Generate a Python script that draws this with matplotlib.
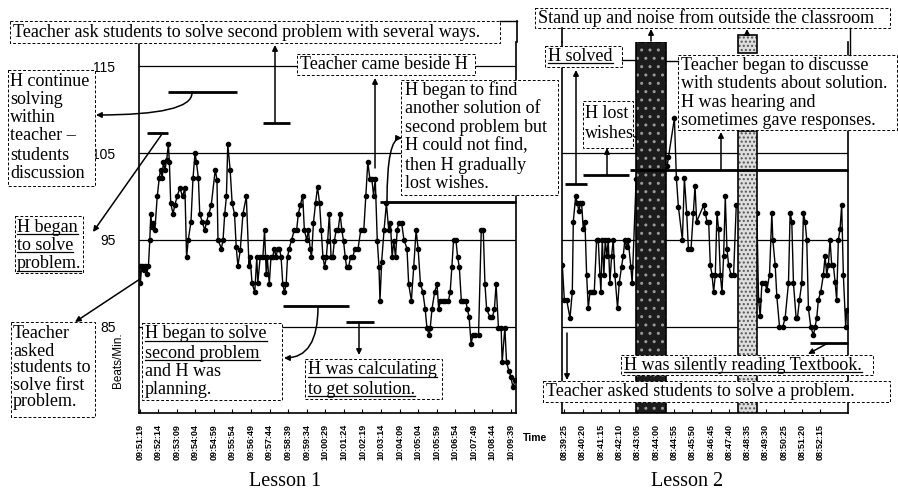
import matplotlib
matplotlib.use('Agg')
import matplotlib.pyplot as plt
from matplotlib.patches import Rectangle, FancyArrowPatch
import numpy as np

# Lesson 1 : seconds after 09:51:19 / heart rate (beats per minute)
t1 = [0, 2, 6, 12, 16, 21, 26, 30, 33, 36, 40, 45, 52, 58, 62, 67, 70, 75, 80, 85,
      88, 92, 99, 104, 111, 119, 127, 134, 139, 144, 152, 158, 164, 168, 174, 178,
      185, 193, 198, 205, 212, 224, 229, 232, 242, 247, 252, 257, 261, 268, 274,
      281, 286, 291, 298, 306, 316, 324, 327, 333, 341, 347, 350, 357, 365, 370,
      375, 378, 384, 389, 394, 399, 404, 409, 414, 419, 424, 429, 434, 438, 443,
      450, 458, 465, 470, 476, 483, 488, 495, 500, 505, 509, 515, 521, 527, 533,
      538, 543, 548, 553, 557, 562, 567, 572, 577, 582, 588, 594, 599, 604, 609,
      613, 619, 625, 631, 638, 647, 655, 664, 670, 676, 682, 688, 693, 698, 704,
      709, 712, 717, 724, 731, 738, 743, 748, 753, 758, 763, 768, 776, 783, 792,
      797, 805, 812, 819, 825, 832, 839, 846, 851, 858, 861, 866, 874, 881, 886,
      891, 898, 905, 915, 920, 925, 930, 937, 942, 947, 953, 959, 966, 971, 976,
      982, 987, 994, 1004, 1012, 1018, 1023, 1028, 1038, 1045, 1051, 1056, 1063,
      1071, 1074, 1082, 1087, 1094, 1100, 1106, 1112]
hr1 = [92.0, 90.0, 92.0, 91.5, 92.0, 91.1, 92.0, 95.0, 98.0, 96.5, 97.0, 96.1, 100.0,
       102.1, 103.1, 102.1, 104.0, 103.1, 104.2, 106.0, 104.0, 99.2, 98.0, 99.0,
       100.0, 101.0, 100.0, 101.0, 93.0, 95.0, 97.1, 102.1, 105.0, 104.0, 102.1,
       98.0, 97.1, 96.1, 97.1, 98.0, 99.0, 103.1, 101.9, 95.0, 94.0, 95.0, 98.0,
       100.0, 106.0, 103.1, 99.2, 98.0, 94.2, 92.0, 93.8, 98.0, 100.0, 92.0, 93.0,
       90.0, 89.0, 93.0, 90.0, 93.0, 93.0, 96.1,
       91.1, 93.0, 89.9, 93.0, 93.0, 94.0, 93.0, 94.0, 94.0, 93.0, 89.9, 89.0, 89.9,
       93.0, 94.0, 95.0, 96.1, 96.1, 98.0, 99.0, 100.1, 96.1, 95.0, 96.1, 94.0, 93.0,
       97.0, 99.2, 101.1, 99.2, 96.1, 93.0, 91.9, 93.0, 94.9, 98.0, 93.0, 93.0, 94.9,
       96.1, 96.1, 98.0, 96.1, 94.9, 93.0, 91.9, 91.9, 93.0, 93.0, 94.0, 94.0, 96.1,
       96.1, 100.1, 104.0, 102.0, 102.0, 100.1, 102.0, 94.9, 91.9, 88.0, 92.5, 96.1,
       99.2, 96.1, 97.0, 93.0, 94.9, 93.0, 96.1, 97.0, 97.0, 95.0, 94.0, 89.9, 88.0,
       91.9, 96.1, 94.0, 89.9, 89.0, 87.0, 84.9, 84.0, 84.9, 87.0, 89.0, 89.9, 87.0,
       88.0, 88.0, 88.0, 88.0, 89.0, 91.9, 95.0, 95.0, 93.0, 91.9, 88.0, 88.0, 88.0,
       87.0, 86.1, 83.0, 84.0, 84.0, 84.0, 96.1, 96.1, 89.9, 87.0, 86.1, 86.1, 87.0,
       89.9, 84.9, 84.9, 80.9, 84.9, 80.9, 79.9, 79.2, 78.0, 78.8]
ticks1 = ['09:51:19', '09:52:14', '09:53:09', '09:54:04', '09:54:59', '09:55:54',
          '09:56:49', '09:57:44', '09:58:39', '09:59:34', '10:00:29', '10:01:24',
          '10:02:19', '10:03:14', '10:04:09', '10:05:04', '10:05:59', '10:06:54',
          '10:07:49', '10:08:44', '10:09:39']

# Lesson 2 : seconds after 08:39:25
t2 = [-6, 0, 7, 17, 24, 27, 34, 39, 44, 48, 52, 57, 62, 67, 72, 77, 84, 90, 97, 102,
      107, 110, 114, 119, 123, 128, 132, 137, 142, 147, 152, 160, 165, 172, 177, 182,
      187, 192, 200, 204, 216,
      309, 313, 331, 337, 343, 355, 361, 368, 373, 381, 388, 393, 398, 419, 424, 429,
      434, 439, 444, 449, 454, 459, 464, 469, 474, 479, 484, 489, 494, 501, 509, 517,
      579, 584, 589, 594, 604, 609, 617, 624, 627, 634, 639, 647, 657, 664, 674, 679,
      684, 689, 697, 701, 707, 714, 719, 724, 729, 734, 741, 749, 754, 759, 764, 771,
      779, 784, 789, 794, 799, 804, 809, 814, 819, 824, 829, 834, 839, 846, 849]
hr2 = [92.1, 88.1, 88.1, 86.0, 89.0, 97.1, 100.0, 99.2, 98.3, 99.2, 99.2, 96.2, 97.1,
       91.0, 87.1, 89.0, 89.0, 89.0, 95.0, 95.0, 91.0, 89.0, 95.0, 91.0, 95.0, 93.1,
       95.0, 90.0, 93.1, 95.0, 91.0, 87.1, 90.0, 91.9, 93.1, 95.0, 94.2, 95.0, 91.9,
       90.0, 102.0,
       103.5, 104.5, 109.0, 102.1, 98.8, 95.0, 102.1, 98.1, 94.0, 94.0, 98.1, 101.2,
       97.1, 99.0, 98.1, 97.1, 97.1, 92.1, 91.0, 89.0, 91.0, 98.1, 96.2, 91.0, 89.0,
       93.1, 100.0, 94.0, 92.1, 91.0, 91.0, 99.0,
       98.1, 88.1, 86.2, 90.0, 90.0, 89.2, 91.0, 98.1, 95.0, 92.1, 88.5, 85.0, 85.0,
       86.0, 90.0, 98.1, 97.1, 90.0, 86.0, 86.0, 88.1, 90.0, 98.1, 97.1, 95.0, 87.1,
       85.0, 84.0, 85.0, 86.0, 88.1, 89.0, 91.0, 93.1, 91.0, 92.1, 95.0, 92.1, 92.1,
       90.2, 88.1, 95.0, 96.2, 99.0, 91.0, 85.0, 86.9]
ticks2 = ['08:39:25', '08:40:20', '08:41:15', '08:42:10', '08:43:05', '08:44:00',
          '08:44:55', '08:45:50', '08:46:45', '08:47:40', '08:48:35', '08:49:30',
          '08:50:25', '08:51:20', '08:52:15']
noise_dark = [216, 306]    # stand up / noise outside (dark band)
noise_light = [523, 580]   # second band (light)
grid1 = [85, 95, 105, 115]
grid2 = [85, 95, 105]

W, H = 898, 491
SERIF = 'Liberation Serif'
SANS = 'Liberation Sans'
FS = 13
YLO, YHI = 75.05, 117.8

fig = plt.figure(figsize=(W / 100, H / 100), dpi=100)
fig.patch.set_facecolor('white')


def rect_px(x0, y0, x1, y1):
    return [x0 / W, 1 - y1 / H, (x1 - x0) / W, (y1 - y0) / H]


ax1 = fig.add_axes(rect_px(139, 42, 516, 413))
ax2 = fig.add_axes(rect_px(562, 42, 848, 413))

for ax, t, hr, labs, grid in [(ax1, t1, hr1, ticks1, grid1), (ax2, t2, hr2, ticks2, grid2)]:
    ax.plot(t, hr, '-o', color='black', lw=1.0, ms=3, mfc='black', mec='black', zorder=3)
    for g in grid:
        ax.axhline(g, color='black', lw=0.9, zorder=1)
    ax.set_ylim(YLO, YHI)
    ax.spines['top'].set_visible(False)
    for s in ['left', 'right', 'bottom']:
        ax.spines[s].set_linewidth(1.2)
    pos = np.arange(len(labs)) * 55
    ax.set_xticks(pos)
    ax.set_xticklabels(labs, rotation=90, fontsize=6.5, fontweight='bold', family=SANS)
    ax.tick_params(axis='x', direction='in', length=3, pad=8)

ax1.set_xlim(-2, 1115)
ax2.set_xlim(-7, 853)
ax1.set_yticks(grid1)
ax1.set_yticklabels([str(g) for g in grid1], fontsize=10, family=SANS)
ax1.tick_params(axis='y', length=0, pad=17)
ax2.set_yticks([])

# shaded bands in lesson 2
ax2.add_patch(Rectangle((noise_dark[0], YLO), noise_dark[1] - noise_dark[0], YHI - YLO,
                        fc='#1c1c1c', ec='#9a9a9a', hatch='..', lw=0, zorder=4))
ax2.add_patch(Rectangle((noise_dark[0], YLO), noise_dark[1] - noise_dark[0], YHI - YLO,
                        fc='none', ec='black', lw=1.2, zorder=4))
ax2.add_patch(Rectangle((noise_light[0], YLO), noise_light[1] - noise_light[0], 107.6 - YLO,
                        fc='#dedede', ec='#555555', hatch='....', lw=0, zorder=4))
ax2.add_patch(Rectangle((noise_light[0], YLO), noise_light[1] - noise_light[0], 107.6 - YLO,
                        fc='none', ec='black', lw=1.2, zorder=4))
tr = ax2.get_xaxis_transform()
ax2.add_patch(Rectangle((noise_light[0], 0.97), noise_light[1] - noise_light[0], 0.049,
                        transform=tr, fc='#dedede', ec='#555555', hatch='....', lw=0,
                        clip_on=False, zorder=4))
ax2.add_patch(Rectangle((noise_light[0], 0.97), noise_light[1] - noise_light[0], 0.049,
                        transform=tr, fc='none', ec='black', lw=1.2, clip_on=False, zorder=4))

# overlay for annotations, pixel coordinates (y downwards)
ov = fig.add_axes([0, 0, 1, 1])
ov.set_xlim(0, W)
ov.set_ylim(H, 0)
ov.axis('off')
ov.set_zorder(5)
underlined = []


def box(x0, y0, x1, y1):
    ov.add_patch(Rectangle((x0, y0), x1 - x0, y1 - y0, fc='white', ec='black',
                           lw=0.7, ls=(0, (3, 2)), zorder=3))


def lines(x, ys, texts, ul=()):
    for i, (y, s) in enumerate(zip(ys, texts)):
        tt = ov.text(x, y, s, fontsize=FS, family=SERIF, va='center', ha='left', zorder=4)
        if i in ul:
            underlined.append(tt)


def bar(x0, x1, y):
    ov.plot([x0, x1], [y, y], color='black', lw=2, solid_capstyle='butt', zorder=4)


def seg(x0, y0, x1, y1, lw=1.0):
    ov.plot([x0, x1], [y0, y1], color='black', lw=lw, zorder=4)


def arrow(p0, p1, cs='arc3'):
    ov.add_patch(FancyArrowPatch(p0, p1, arrowstyle='-|>', mutation_scale=8, lw=1.1,
                                 color='black', connectionstyle=cs, shrinkA=0, shrinkB=0,
                                 zorder=4))


# ---- lesson 1 annotations
box(10, 21, 500, 43)
lines(13, [32], ['Teacher ask students to solve second problem with several ways.'])
seg(500, 21, 517, 21)
seg(516.5, 21, 516.5, 42, lw=1.2)
bar(263, 290, 123)
arrow((275, 123), (275, 45))

box(297, 54, 475, 75)
lines(300, [64], ['Teacher came beside H'])
arrow((375, 168), (375, 78))

box(401, 80, 558, 195)
lines(405, [90, 108.5, 127, 146, 165, 184],
      ['H began to find', 'another solution of', 'second problem but',
       'H could not find,', 'then H gradually', 'lost wishes.'])
bar(380, 516, 202)
arrow((387, 201), (402, 138), 'angle3,angleA=90,angleB=0')

box(8, 70, 95, 186)
lines(10, [81, 99, 117, 136, 155, 174],
      ['H continue', 'solving', 'within', 'teacher \u2013', 'students', 'discussion'])
bar(168, 237, 92)
arrow((192, 93), (96, 115), 'angle3,angleA=90,angleB=0')

box(15, 216, 83, 273)
lines(17, [227, 245, 264], ['H began', 'to solve', 'problem.'], ul=(0, 1, 2))
bar(147, 168, 133)
arrow((162, 134), (93, 232))

box(11, 322, 95, 417)
lines(13, [334, 351, 368, 385, 402],
      ['Teacher', 'asked', 'students to', 'solve first', 'problem.'])
arrow((140, 279), (75, 322))

box(142, 323, 282, 400)
lines(145, [334, 353, 371, 390],
      ['H began to solve', 'second problem', 'and H was', 'planning.'], ul=(0, 1))
bar(283, 349, 306)
arrow((318, 307), (284, 358), 'angle3,angleA=90,angleB=0')

box(305, 359, 442, 399)
lines(308, [370, 389], ['H was calculating', 'to get solution.'], ul=(0, 1))
bar(346, 374, 322)
arrow((359, 322), (359, 355))

# ---- lesson 2 annotations
box(535, 8, 890, 28)
lines(538, [18], ['Stand up and noise from outside the classroom'])
seg(562, 28, 562, 42, lw=1.2)
seg(850, 28, 850, 55)
arrow((651, 41), (651, 29))
arrow((747, 35), (747, 29))

box(545, 46, 622, 67)
lines(548, [56], ['H solved'], ul=(0,))
seg(622, 60, 636, 60)
bar(565, 587, 184)
arrow((576, 184), (576, 70))

box(583, 101, 633, 148)
lines(585, [113, 134], ['H lost', 'wishes.'])
bar(583, 629, 175)
arrow((607, 175), (607, 148))

box(678, 55, 897, 130)
lines(681, [65, 83, 102, 120],
      ['Teacher began to discusse', 'with students about solution.',
       'H was hearing and', 'sometimes gave responses.'])
seg(666, 61, 678, 61)
bar(630, 848, 170)
arrow((721, 170), (721, 132))

box(621, 355, 873, 375)
lines(624, [365], ['H was silently reading Textbook.'], ul=(0,))
bar(810, 848, 343)
arrow((828, 343), (808, 354))

box(543, 381, 890, 402)
lines(546, [391], ['Teacher asked students to solve a problem.'])
arrow((567, 333), (567, 380))

# ---- axis titles
ov.text(118, 360, 'Beats/Min.', rotation=90, fontsize=8.5, family=SANS,
        ha='center', va='center')
ov.text(523, 438, 'Time', fontsize=7.5, family=SANS, fontweight='bold',
        ha='left', va='center')
ov.text(285, 482, 'Lesson 1', fontsize=14.5, family=SERIF, ha='center', va='center')
ov.text(687, 482, 'Lesson 2', fontsize=14.5, family=SERIF, ha='center', va='center')

# underline selected text lines
fig.canvas.draw()
rend = fig.canvas.get_renderer()
inv = ov.transData.inverted()
for tt in underlined:
    bb = tt.get_window_extent(rend)
    xa, ya = inv.transform((bb.x0, bb.y0 + 2))
    xb, _ = inv.transform((bb.x1, bb.y0 + 2))
    ov.plot([xa, xb], [ya, ya], color='black', lw=0.9, zorder=4)

fig.savefig('out.png', dpi=100, facecolor='white')
